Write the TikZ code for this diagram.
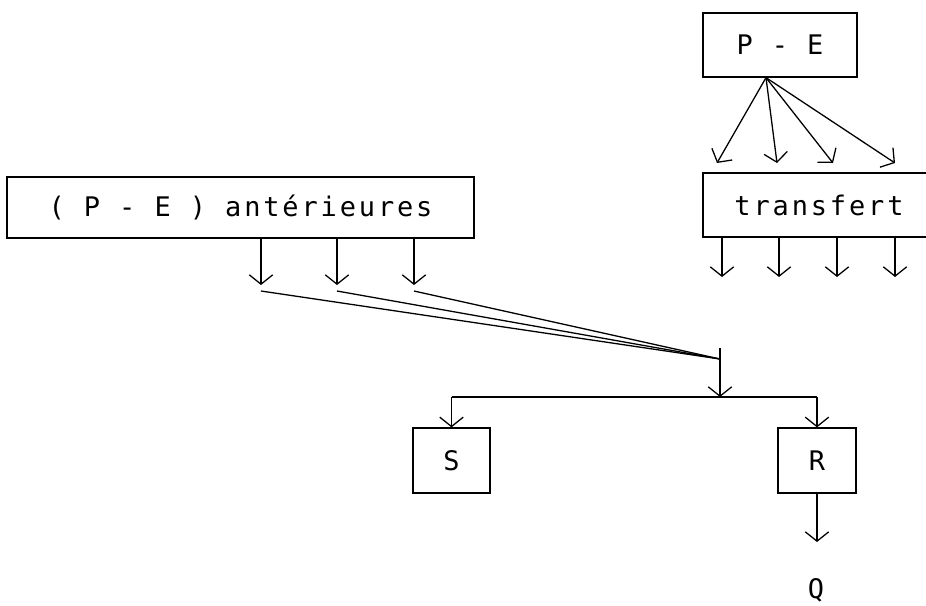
\documentclass[tikz,border=0pt]{standalone}
\usepackage{fontspec}
\setmonofont{DejaVu Sans Mono}[LetterSpace=10.7]
\usetikzlibrary{arrows.meta}
\tikzset{
	box/.style={draw, line width=1.1pt, inner sep=0pt, font=\ttfamily\fontsize{23}{27}\selectfont},
	lbl/.style={inner sep=0pt, font=\ttfamily\fontsize{23}{27}\selectfont},
	arr/.style={-{Straight Barb[length=8pt,width=20pt,line width=1.1pt]}, line width=1.1pt}
}
\begin{document}
\begin{tikzpicture}[x=0.03cm, y=-0.03cm, line width=1.1pt]
	\useasboundingbox (0,0) rectangle (926,605);
	\clip (0,0) rectangle (926,605);
	\node[box, minimum width=14.01cm, minimum height=1.83cm] (ante) at (240.5,207.5) {( P - E ) antérieures};
	\node[box, minimum width=4.62cm, minimum height=1.92cm] (pe) at (780,45) {P - E};
	\node[box, minimum width=6.96cm, minimum height=1.92cm] (tr) at (819,205) {transfert};
	\node[box, minimum width=2.31cm, minimum height=1.95cm] (S) at (451.5,460.5) {S};
	\node[box, minimum width=2.34cm, minimum height=1.95cm] (R) at (817,460.5) {R};
	\node[lbl] (Q) at (816,590) {Q};
	\coordinate (join) at (720,359);
	\coordinate (split) at (720,397);
	\coordinate (qin) at (816,542);
	\foreach \x in {717,777,833,895} \draw[arr] (766,0 |- pe.south) -- (\x,163);
	\foreach \x in {722,779,837,895} \draw[arr] (\x,0 |- tr.south) -- (\x,277);
	\foreach \x [count=\i] in {261,337,414} {
		\coordinate (a\i) at (\x,285);
		\draw[arr] (\x,0 |- ante.south) -- (a\i);
		\draw (a\i) ++(0,6) -- (join);
	}
	\draw[arr] (join) ++(0,-11) -- (split);
	\draw (split -| S) -- (split -| R);
	\draw[arr] (split -| S) -- (S);
	\draw[arr] (split -| R) -- (R);
	\draw[arr] (R.south) -- (R.south |- qin);
\end{tikzpicture}
\end{document}
